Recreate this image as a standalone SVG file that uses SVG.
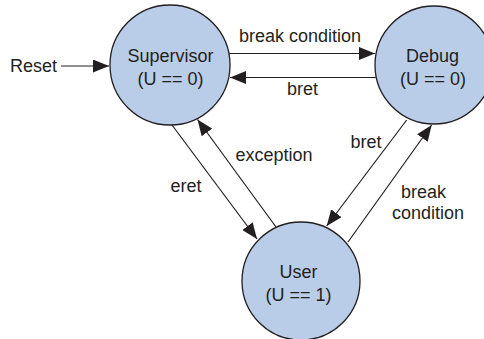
<svg xmlns="http://www.w3.org/2000/svg" width="484" height="339" viewBox="0 0 484 339">
  <style>
    .state { fill: #b9cde8; stroke: #231f20; stroke-width: 1.3; }
    .label { font-family: "Liberation Sans", Arial, sans-serif; font-size: 18px; fill: #231f20; text-anchor: middle; }
    .edge { stroke: #231f20; stroke-width: 1.2; fill: none; marker-end: url(#arrow); }
  </style>
  <defs>
    <marker id="arrow" viewBox="0 0 16 13" refX="16" refY="6.5" markerWidth="16" markerHeight="13" markerUnits="userSpaceOnUse" orient="auto">
      <path d="M0,0 L16,6.5 L0,13 Z" fill="#231f20"/>
    </marker>
  </defs>
  <rect width="484" height="339" fill="#ffffff"/>

  <g id="supervisor">
    <circle class="state" cx="170" cy="65" r="60"/>
    <text class="label" x="170.5" y="62">Supervisor</text>
    <text class="label" x="170.5" y="85">(U == 0)</text>
  </g>

  <g id="debug">
    <circle class="state" cx="434" cy="65" r="59"/>
    <text class="label" x="432.5" y="62">Debug</text>
    <text class="label" x="433" y="85">(U == 0)</text>
  </g>

  <g id="user">
    <circle class="state" cx="301" cy="281" r="59"/>
    <text class="label" x="298.5" y="278">User</text>
    <text class="label" x="298.5" y="301">(U == 1)</text>
  </g>

  <g id="connectors">
    <line class="edge" x1="61" y1="66" x2="109" y2="66"/>
    <line class="edge" x1="229" y1="53.5" x2="375" y2="53.5"/>
    <line class="edge" x1="376" y1="77.5" x2="230" y2="77.5"/>
    <line class="edge" x1="172" y1="125" x2="257" y2="239"/>
    <line class="edge" x1="276" y1="227" x2="197.5" y2="119.5"/>
    <line class="edge" x1="406.7" y1="120" x2="326.7" y2="226"/>
    <line class="edge" x1="348" y1="242" x2="431.7" y2="125"/>
  </g>

  <g id="labels">
    <text class="label" x="10" y="72" style="text-anchor:start">Reset</text>
    <text class="label" x="300" y="42">break condition</text>
    <text class="label" x="302.5" y="95">bret</text>
    <text class="label" x="186" y="192">eret</text>
    <text class="label" x="274" y="161">exception</text>
    <text class="label" x="366" y="148">bret</text>
    <text class="label" x="423.5" y="198">break</text>
    <text class="label" x="428" y="219">condition</text>
  </g>
</svg>
